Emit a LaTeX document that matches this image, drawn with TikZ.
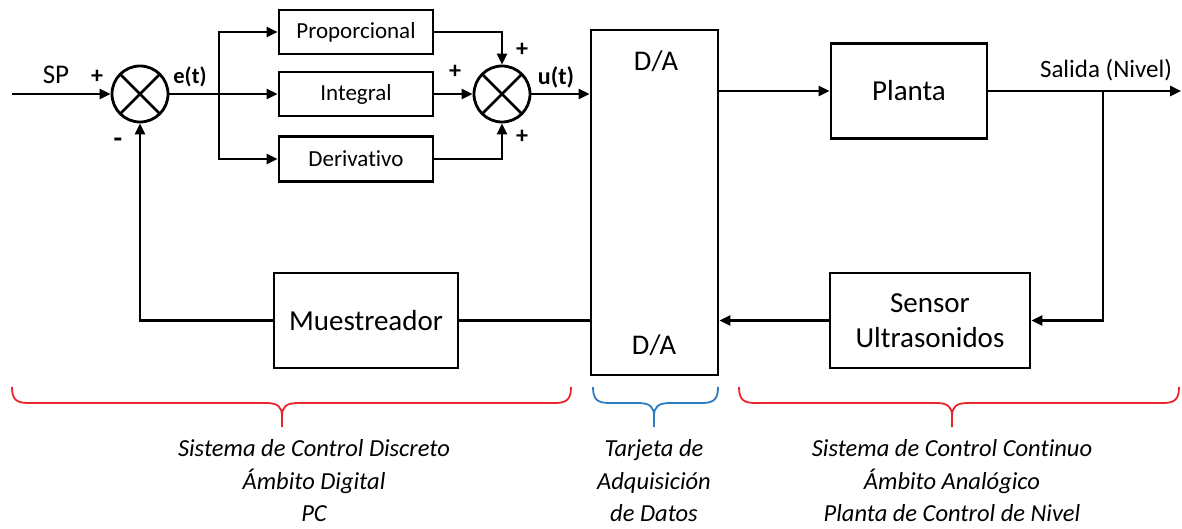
\documentclass[tikz,border=0pt]{standalone}
\usepackage{fontspec}
\setmainfont[Ligatures=NoCommon]{Carlito}
\usetikzlibrary{arrows.meta,calc}
\definecolor{bred}{HTML}{E8262B}
\definecolor{bblue}{HTML}{2E7BC4}
\tikzset{
  conn/.style={line width=2.6pt},
  arr/.style={conn,-{Triangle[length=11pt,width=10pt]}},
  blk/.style={draw,line width=2.8pt,inner sep=0pt,font=\fontsize{29}{30}\selectfont},
  pid/.style={draw,line width=2.8pt,inner sep=0pt,minimum width=154pt,minimum height=44pt,font=\fontsize{23}{24}\selectfont},
  sumj/.style={draw,circle,line width=2.8pt,minimum size=56pt,inner sep=0pt},
  sgn/.style={font=\bfseries\fontsize{24}{24}\selectfont,inner sep=0pt},
  lbl/.style={font=\fontsize{25}{26}\selectfont,inner sep=0pt},
  captxt/.style={font=\itshape\fontsize{24.5}{32.5}\selectfont,align=center,inner sep=0pt},
  brc/.style={line width=1.8pt}
}
\newcommand\mybrace[4]{%
  \draw[brc,#4] (#1,387) .. controls (#1,399) and (#1+4,403) .. (#1+16,403) -- (#3-16,403) .. controls (#3-4,403) and (#3,407) .. (#3,416) -- (#3,427);
  \draw[brc,#4] (#2,387) .. controls (#2,399) and (#2-4,403) .. (#2-16,403) -- (#3+16,403) .. controls (#3+4,403) and (#3,407) .. (#3,416);
}
\begin{document}
\begin{tikzpicture}[x=1pt,y=-1pt]
\useasboundingbox[fill=white] (0,0) rectangle (1182,529);
% summing junctions
\node[sumj] (s1) at (140,94) {};
\draw[line width=2.8pt] ($(s1)+(-19.8,-19.8)$) -- ($(s1)+(19.8,19.8)$) ($(s1)+(-19.8,19.8)$) -- ($(s1)+(19.8,-19.8)$);
\node[sumj] (s2) at (502,94) {};
\draw[line width=2.8pt] ($(s2)+(-19.8,-19.8)$) -- ($(s2)+(19.8,19.8)$) ($(s2)+(-19.8,19.8)$) -- ($(s2)+(19.8,-19.8)$);
% PID blocks
\node[pid] (prop) at (356,32) {Proporcional};
\node[pid] (integ) at (356,94) {Integral};
\node[pid,minimum height=45pt] (deriv) at (356,159) {Derivativo};
% D/A card
\node[draw,line width=2.8pt,minimum width=127pt,minimum height=345pt,inner sep=0pt] (da) at (654.5,202.5) {};
\node[lbl,font=\fontsize{28.5}{30}\selectfont] (datop) at (656,61) {D/A};
\node[lbl,font=\fontsize{28.5}{30}\selectfont] (dabot) at (654,345) {D/A};
% plant, sensor, sampler
\node[blk,minimum width=156pt,minimum height=95pt] (planta) at (909,91) {Planta};
\node[blk,minimum width=200pt,minimum height=95pt,align=center,font=\fontsize{29}{35}\selectfont] (sensor) at (930,320.5) {Sensor\\Ultrasonidos};
\node[blk,minimum width=184pt,minimum height=95pt] (mues) at (366,320.5) {Muestreador};
% coordinates
\coordinate (in) at (12,94);
\coordinate (br) at (219,94);
\coordinate (out) at (1181,91);
\coordinate (sp) at (1103,91);
% connectors
\draw[arr] (in) -- (s1.west);
\draw[arr] (s1.east) -- (integ.west);
\draw[arr] (br) |- (prop.west);
\draw[arr] (br) |- (deriv.west);
\draw[arr] (prop.east) -| (s2.north);
\draw[arr] (deriv.east) -| (s2.south);
\draw[arr] (integ.east) -- (s2.west);
\draw[arr] (s2.east) -- (s2.east -| da.west);
\draw[arr] (da.east |- planta.west) -- (planta.west);
\draw[arr] (planta.east) -- (out);
\draw[arr] (sp) |- (sensor.east);
\draw[arr] (sensor.west) -- (sensor.west -| da.east);
\draw[conn] (da.west |- mues.east) -- (mues.east);
\draw[arr] (mues.west) -| (s1.south);
% labels
\node[lbl,font=\fontsize{27}{28}\selectfont] (splbl) at (56,75) {SP};
\node[sgn] (p1) at (97,77) {+};
\node[sgn,font=\bfseries\fontsize{28}{28}\selectfont] (m1) at (118,143) {-};
\node[sgn,font=\bfseries\fontsize{22.5}{24}\selectfont] (et) at (190,77) {e(t)};
\node[sgn] (p2) at (522,50) {+};
\node[sgn] (p3) at (455,72) {+};
\node[sgn] (p4) at (522,137) {+};
\node[sgn] (ut) at (556,77) {u(t)};
\node[lbl] (sal) at (1106,70) {Salida (Nivel)};
% braces
\mybrace{12}{571}{282}{bred}
\mybrace{593}{718}{654}{bblue}
\mybrace{739}{1179}{952}{bred}
% captions
\node[captxt] (c1) at (314,481) {Sistema de Control Discreto\\Ámbito Digital\\PC};
\node[captxt] (c2) at (654,481) {Tarjeta de\\Adquisición\\de Datos};
\node[captxt] (c3) at (952,481) {Sistema de Control Continuo\\Ámbito Analógico\\Planta de Control de Nivel};
\end{tikzpicture}
\end{document}
